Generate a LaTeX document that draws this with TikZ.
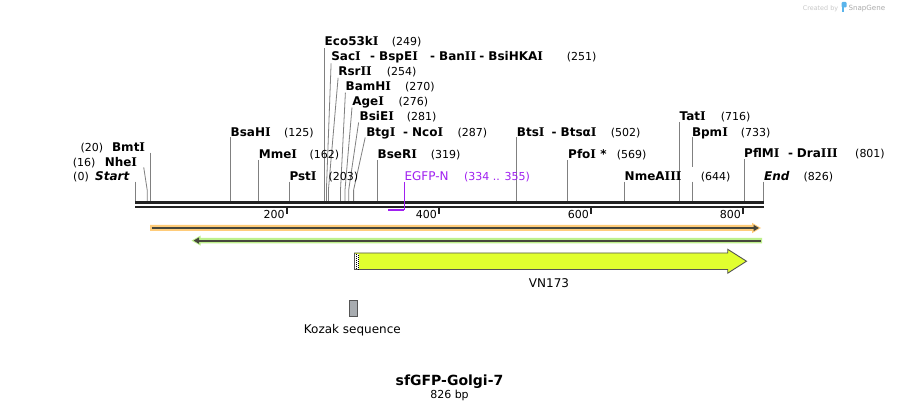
\documentclass[tikz,border=0pt]{standalone}
\usepackage{fontspec}
\setmainfont{DejaVu Sans}
\newfontfamily\dvserif{DejaVu Serif}
\newcommand\sI{{\dvserif\bfseries I}}
\usetikzlibrary{arrows.meta}
\definecolor{bb}{RGB}{34,34,34}
\definecolor{el}{RGB}{128,128,128}
\definecolor{prim}{RGB}{160,32,240}
\definecolor{orgl}{RGB}{255,204,122}
\definecolor{grnl}{RGB}{190,240,140}
\definecolor{fdark}{RGB}{70,70,60}
\definecolor{vnfill}{RGB}{225,255,47}
\definecolor{vnedge}{RGB}{85,85,85}
\definecolor{kozf}{RGB}{168,172,176}
\definecolor{wm}{RGB}{200,200,200}
\definecolor{wmdark}{RGB}{170,170,170}
\definecolor{wmblue}{RGB}{90,180,235}
\begin{document}
\begin{tikzpicture}[x=1pt,y=-1pt,
  nm/.style={font=\bfseries\fontsize{12}{14}\selectfont, inner sep=0pt, anchor=base west},
  nmr/.style={nm, anchor=base east},
  nmit/.style={font=\bfseries\itshape\fontsize{12}{14}\selectfont, inner sep=0pt},
  num/.style={font=\fontsize{11}{13}\selectfont, inner sep=0pt, anchor=base west},
  numr/.style={num, anchor=base east},
  enzline/.style={draw=el, line width=0.8pt},
  bbline/.style={draw=bb, line width=2.7pt},
  tickline/.style={draw=bb, line width=2pt},
  ticklab/.style={font=\fontsize{11}{13}\selectfont, inner sep=0pt, anchor=base east},
  primtxt/.style={text=prim, inner sep=0pt, anchor=base west},
  featdark/.style={draw=fdark, line width=2pt},
  plain/.style={font=\fontsize{12}{14}\selectfont, inner sep=0pt, anchor=base}
]
\useasboundingbox[fill=white] (0,0) rectangle (899,411);

% ---------- watermark
\node[inner sep=0pt, anchor=base west, text=wm, font=\fontsize{6.4}{8}\selectfont] (wm1) at (802.7,10.5) {Created by};
\fill[wmblue, rounded corners=1pt] (841.5,2) rectangle (846.5,7.5);
\fill[wmblue] (841.5,5) rectangle (843.5,11.7);
\node[inner sep=0pt, anchor=base west, text=wmdark, font=\fontsize{7.1}{8}\selectfont] (wm2) at (848.3,10.3) {SnapGene};

% ---------- backbone
\coordinate (bbL1) at (135,202.3); \coordinate (bbR1) at (763.5,202.3);
\coordinate (bbL2) at (135,207);   \coordinate (bbR2) at (763.5,207);
\draw[bbline] (bbL1) -- (bbR1);
\draw[bbline] (bbL2) -- (bbR2);

% ticks
\foreach \tx/\tl in {287.1/200, 439.2/400, 591.2/600, 743.2/800}{
  \draw[tickline] (\tx,208) -- (\tx,214.3);
  \node[ticklab] (t\tl) at (\tx-2.2,218.3) {\tl};
}

% ---------- enzyme lines
\coordinate (sS) at (135,201); \coordinate (tS) at (135,181.7);
\draw[enzline] (tS) -- (sS);
\coordinate (sNhe) at (147.2,201); \coordinate (kNhe) at (147.2,190); \coordinate (tNhe) at (143.7,167.3);
\draw[enzline] (tNhe) -- (kNhe) -- (sNhe);
\coordinate (sBmt) at (150.2,201); \coordinate (tBmt) at (150.2,152.7);
\draw[enzline] (tBmt) -- (sBmt);
\draw[enzline] (230.3,137.5) coordinate (tBsa) -- (230.3,201) coordinate (sBsa);
\draw[enzline] (258.5,160) coordinate (tMme) -- (258.5,201) coordinate (sMme);
\draw[enzline] (289.3,181.7) coordinate (tPst) -- (289.3,201) coordinate (sPst);
\draw[enzline] (324.5,48.3) coordinate (tEco) -- (324.5,201) coordinate (sEco);
\draw[enzline] (331.1,63.3) coordinate (tSac) -- (326.4,190) coordinate (kSac) -- (326.4,201) coordinate (sSac);
\draw[enzline] (338.1,77.8) coordinate (tRsr) -- (328.4,190) coordinate (kRsr) -- (328.4,201) coordinate (sRsr);
\draw[enzline] (345.4,92.6) coordinate (tBam) -- (340.5,190) coordinate (kBam) -- (340.5,201) coordinate (sBam);
\draw[enzline] (352,107.5) coordinate (tAge) -- (345,190) coordinate (kAge) -- (345,201) coordinate (sAge);
\draw[enzline] (358.6,122.5) coordinate (tBsi) -- (348.7,190) coordinate (kBsi) -- (348.7,201) coordinate (sBsi);
\draw[enzline] (365.2,137.5) coordinate (tBtg) -- (353.6,190) coordinate (kBtg) -- (353.6,201) coordinate (sBtg);
\draw[enzline] (377.5,160) coordinate (tBse) -- (377.5,201) coordinate (sBse);
\draw[enzline] (516.7,137.5) coordinate (tBts) -- (516.7,201) coordinate (sBts);
\draw[enzline] (567.8,160) coordinate (tPfo) -- (567.8,201) coordinate (sPfo);
\draw[enzline] (624.6,181.7) coordinate (tNme) -- (624.6,201) coordinate (sNme);
\draw[enzline] (679.4,122) coordinate (tTat) -- (679.4,201) coordinate (sTat);
\draw[enzline] (692.3,137.5) coordinate (tBpm) -- (692.3,166.7) coordinate (gBpm1);
\draw[enzline] (692.3,181.7) coordinate (gBpm2) -- (692.3,201) coordinate (sBpm);
\draw[enzline] (744,159.5) coordinate (tPfl) -- (744,201) coordinate (sPfl);
\draw[enzline] (763,181.7) coordinate (tEnd) -- (763,201) coordinate (sEnd);

% ---------- enzyme labels
\node[nmit, anchor=base east] (lStart) at (129.5,180.5) {Start};
\node[numr] (nStart) at (89,180.5) {(0)};
\node[nmr] (lNhe) at (137.3,166.5) {Nhe\sI};
\node[numr] (nNhe) at (95.7,166.5) {(16)};
\node[nmr] (lBmt) at (145.3,151.5) {Bmt\sI};
\node[numr] (nBmt) at (103.3,151.5) {(20)};

\node[nm] (lBsa) at (230.5,136.5) {BsaH\sI};
\node[num] (nBsa) at (284,136.5) {(125)};
\node[nm] (lMme) at (258.7,159) {Mme\sI};
\node[num] (nMme) at (309.3,159) {(162)};
\node[nm] (lPst) at (289.3,180.5) {Pst\sI};
\node[num] (nPst) at (328.3,180.5) {(203)};

\node[nm] (lEco) at (324.5,45.7) {Eco53k\sI};
\node[num] (nEco) at (391.7,45.7) {(249)};
\node[nm] (lSac) at (331.1,61) {Sac\sI};
\node[nm] (lBspE) at (370,61) {-\,\,BspE\sI};
\node[nm] (lBan) at (430,61) {-\,\,Ban\sI\sI};
\node[nm] (lBsiHK) at (479.2,61) {-\,\,BsiHKA\sI};
\node[num] (nSac) at (566.7,61) {(251)};
\node[nm] (lRsr) at (338.1,75.8) {Rsr\sI\sI};
\node[num] (nRsr) at (386.7,75.8) {(254)};
\node[nm] (lBam) at (345.5,90.8) {BamH\sI};
\node[num] (nBam) at (405,90.8) {(270)};
\node[nm] (lAge) at (352.1,105.8) {Age\sI};
\node[num] (nAge) at (398.3,105.8) {(276)};
\node[nm] (lBsi) at (359.5,120.8) {BsiE\sI};
\node[num] (nBsi) at (406.7,120.8) {(281)};
\node[nm] (lBtg) at (366.1,136.2) {Btg\sI};
\node[nm] (lNco) at (403,136.2) {-\,\,Nco\sI};
\node[num] (nBtg) at (457.3,136.2) {(287)};

\node[nm] (lBse) at (377.5,158.5) {BseR\sI};
\node[num] (nBse) at (430.7,158.5) {(319)};

\node[nm] (lBts) at (516.7,136.5) {Bts\sI};
\node[nm] (lBtsa) at (551.5,136.5) {-\,\,Btsα\sI};
\node[num] (nBts) at (610.7,136.5) {(502)};
\node[nm] (lPfo) at (568,158.5) {Pfo\sI{} *};
\node[num] (nPfo) at (616.7,158.5) {(569)};
\node[nm] (lNme) at (624.5,180.5) {NmeA\sI\sI\sI};
\node[num] (nNme) at (700.7,180.5) {(644)};
\node[nm] (lTat) at (679.4,120.7) {Tat\sI};
\node[num] (nTat) at (720.7,120.7) {(716)};
\node[nm] (lBpm) at (691.8,136.5) {Bpm\sI};
\node[num] (nBpm) at (740.7,136.5) {(733)};
\node[nm] (lPfl) at (744,157.8) {PflM\sI};
\node[nm] (lDra) at (787.8,157.8) {-\,\,Dra\sI\sI\sI};
\node[num] (nPfl) at (855,157.8) {(801)};
\node[nmit, anchor=base west] (lEnd) at (764,180.5) {End};
\node[num] (nEnd) at (803.3,180.5) {(826)};

% ---------- primer EGFP-N
\node[primtxt, font=\fontsize{12}{14}\selectfont] (lPrim) at (404.3,180.5) {EGFP-N};
\node[primtxt, font=\fontsize{11}{13}\selectfont] (nPrim) at (464,180.5) {(334 .. 355)};
\coordinate (pTop) at (404.3,182);
\coordinate (pCorner) at (404.3,210.2);
\coordinate (pStart) at (388.3,210.2);
\draw[prim, line width=1.3pt] (pTop) -- (pCorner);
\draw[prim, line width=2pt] (pStart) -- (pCorner);

% ---------- orange feature (forward)
\fill[orgl] (150,225) -- (752,225) -- (752,222.8) -- (761,228) -- (752,233.2) -- (752,231) -- (150,231) -- cycle;
\coordinate (oL) at (151.5,228); \coordinate (oR) at (759,228);
\draw[featdark, -{Triangle[length=5.5pt,width=6pt]}] (oL) -- (oR);

% ---------- green feature (reverse)
\fill[grnl] (762,237.8) -- (200.5,237.8) -- (200.5,235.6) -- (191.5,240.6) -- (200.5,245.6) -- (200.5,243.4) -- (762,243.4) -- cycle;
\coordinate (gR) at (761,240.6); \coordinate (gL) at (193.5,240.6);
\draw[featdark, -{Triangle[length=5.5pt,width=6pt]}] (gR) -- (gL);

% ---------- VN173 arrow
\draw[fill=vnfill, draw=vnedge, line width=0.9pt]
  (354.5,253) -- (727.7,253) -- (727.7,249.3) -- (746.5,261.2) -- (727.7,273.2) -- (727.7,269.5) -- (354.5,269.5) -- cycle;
\fill[white] (355.2,253.6) rectangle (359.2,268.9);
\draw[black, line width=1pt, dash pattern=on 1pt off 1pt] (356,253.6) -- (356,268.9);
\draw[black, line width=1pt, dash pattern=on 1pt off 1pt, dash phase=1pt] (358.2,253.6) -- (358.2,268.9);
\node[plain] (lVN) at (549,287.5) {VN173};

% ---------- Kozak
\draw[fill=kozf, draw=vnedge, line width=0.8pt] (349.3,300.7) rectangle (357.5,316);
\node[plain] (lKoz) at (352.3,334) {Kozak sequence};

% ---------- title
\node[inner sep=0pt, anchor=base, font=\bfseries\fontsize{14}{16}\selectfont] (title) at (449.5,385.5) {sfGFP-Golgi-7};
\node[inner sep=0pt, anchor=base, font=\fontsize{11}{13}\selectfont] (len) at (449.5,398) {826 bp};
\end{tikzpicture}
\end{document}
